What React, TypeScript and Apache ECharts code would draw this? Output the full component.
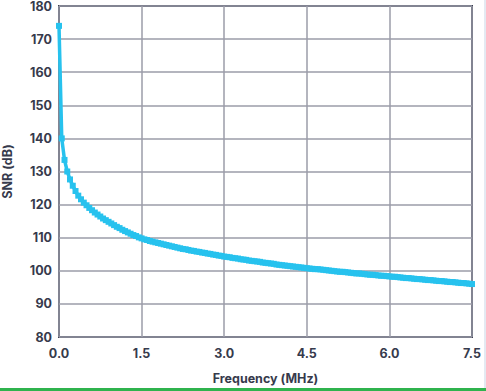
import React, { useEffect, useRef } from "react";
import * as echarts from "echarts";

const frequencyMHz = [
  0.0, 0.05, 0.1, 0.15, 0.2, 0.25, 0.3, 0.35, 0.4, 0.45,
  0.5, 0.55, 0.6, 0.65, 0.7, 0.75, 0.8, 0.85, 0.9, 0.95,
  1.0, 1.05, 1.1, 1.15, 1.2, 1.25, 1.3, 1.35, 1.4, 1.45,
  1.5, 1.55, 1.6, 1.65, 1.7, 1.75, 1.8, 1.85, 1.9, 1.95,
  2.0, 2.05, 2.1, 2.15, 2.2, 2.25, 2.3, 2.35, 2.4, 2.45,
  2.5, 2.55, 2.6, 2.65, 2.7, 2.75, 2.8, 2.85, 2.9, 2.95,
  3.0, 3.05, 3.1, 3.15, 3.2, 3.25, 3.3, 3.35, 3.4, 3.45,
  3.5, 3.55, 3.6, 3.65, 3.7, 3.75, 3.8, 3.85, 3.9, 3.95,
  4.0, 4.05, 4.1, 4.15, 4.2, 4.25, 4.3, 4.35, 4.4, 4.45,
  4.5, 4.55, 4.6, 4.65, 4.7, 4.75, 4.8, 4.85, 4.9, 4.95,
  5.0, 5.05, 5.1, 5.15, 5.2, 5.25, 5.3, 5.35, 5.4, 5.45,
  5.5, 5.55, 5.6, 5.65, 5.7, 5.75, 5.8, 5.85, 5.9, 5.95,
  6.0, 6.05, 6.1, 6.15, 6.2, 6.25, 6.3, 6.35, 6.4, 6.45,
  6.5, 6.55, 6.6, 6.65, 6.7, 6.75, 6.8, 6.85, 6.9, 6.95,
  7.0, 7.05, 7.1, 7.15, 7.2, 7.25, 7.3, 7.35, 7.4, 7.45,
  7.5,
];

const snrDb = [
  174, 140, 133.5, 130, 127.6, 125.7, 124.1, 122.7, 121.6, 120.6,
  119.8, 119.0, 118.3, 117.6, 117.0, 116.4, 115.8, 115.3, 114.8, 114.3,
  113.8, 113.3, 112.9, 112.4, 112.0, 111.6, 111.2, 110.8, 110.5, 110.1,
  109.8, 109.5, 109.3, 109.0, 108.8, 108.6, 108.4, 108.2, 108.0, 107.8,
  107.6, 107.4, 107.2, 107.0, 106.8, 106.6, 106.5, 106.3, 106.1, 106.0,
  105.8, 105.7, 105.5, 105.4, 105.2, 105.1, 104.9, 104.8, 104.6, 104.5,
  104.3, 104.2, 104.1, 103.9, 103.8, 103.7, 103.5, 103.4, 103.3, 103.1,
  103.0, 102.9, 102.8, 102.7, 102.5, 102.4, 102.3, 102.2, 102.1, 101.9,
  101.8, 101.7, 101.6, 101.5, 101.4, 101.3, 101.2, 101.1, 101.0, 100.9,
  100.8, 100.7, 100.6, 100.5, 100.5, 100.4, 100.3, 100.2, 100.1, 100.0,
  99.9, 99.8, 99.7, 99.7, 99.6, 99.5, 99.4, 99.3, 99.2, 99.2,
  99.1, 99.0, 98.9, 98.8, 98.8, 98.7, 98.6, 98.5, 98.5, 98.4,
  98.3, 98.2, 98.2, 98.1, 98.0, 97.9, 97.8, 97.8, 97.7, 97.6,
  97.5, 97.5, 97.4, 97.3, 97.2, 97.2, 97.1, 97.0, 96.9, 96.9,
  96.8, 96.7, 96.6, 96.6, 96.5, 96.4, 96.3, 96.3, 96.2, 96.1,
  96.0,
];

const xAxisTitle = "Frequency (MHz)";
const yAxisTitle = "SNR (dB)";

const TEXT = "#363a4c";
const FONT = "Inter";

export default function App() {
  const ref = useRef<HTMLDivElement>(null);

  useEffect(() => {
    if (!ref.current) return;
    const chart = echarts.init(ref.current, null, { renderer: "svg" });
    const data = frequencyMHz.map((f, i) => [f, snrDb[i]]);
    chart.setOption({
      animation: false,
      backgroundColor: "#ffffff",
      grid: {
        left: 59,
        top: 6,
        right: 14,
        bottom: 54,
        show: true,
        borderColor: "#3b3e4f",
        borderWidth: 2,
        containLabel: false,
        outerBoundsMode: "none",
      },
      xAxis: {
        type: "value",
        min: 0,
        max: 7.5,
        interval: 1.5,
        name: xAxisTitle,
        nameLocation: "middle",
        nameGap: 35,
        nameTextStyle: { color: TEXT, fontFamily: FONT, fontWeight: 700, fontSize: 12.5 },
        axisLine: { show: false },
        axisTick: { show: false },
        axisLabel: {
          color: TEXT,
          fontFamily: FONT,
          fontWeight: 700,
          fontSize: 12.5,
          margin: 10,
          formatter: (v: number) => v.toFixed(1),
        },
        splitLine: { show: true, lineStyle: { color: "#9b9da9", width: 1.5 } },
      },
      yAxis: {
        type: "value",
        min: 80,
        max: 180,
        interval: 10,
        name: yAxisTitle,
        nameLocation: "middle",
        nameGap: 45,
        nameTextStyle: { color: TEXT, fontFamily: FONT, fontWeight: 700, fontSize: 12.5 },
        axisLine: { show: false },
        axisTick: { show: false },
        axisLabel: {
          color: TEXT,
          fontFamily: FONT,
          fontWeight: 700,
          fontSize: 12.5,
          margin: 7,
        },
        splitLine: { show: true, lineStyle: { color: "#9b9da9", width: 1.5 } },
      },
      series: [
        {
          type: "line",
          data,
          symbol: "rect",
          symbolSize: 6,
          showAllSymbol: true,
          lineStyle: { color: "#27c2ee", width: 3.5 },
          itemStyle: { color: "#27c2ee" },
          z: 3,
        },
      ],
      graphic: [
        {
          type: "rect",
          shape: { x: 0, y: 388, width: 486, height: 3 },
          style: { fill: "#2fb34e" },
          silent: true,
        },
        {
          type: "rect",
          shape: { x: 484, y: 0, width: 2, height: 388 },
          style: { fill: "#e4eaf2" },
          silent: true,
        },
      ],
    });
    return () => chart.dispose();
  }, []);

  return (
    <div
      ref={ref}
      style={{ position: "fixed", left: 0, top: 0, width: 486, height: 391 }}
    />
  );
}
